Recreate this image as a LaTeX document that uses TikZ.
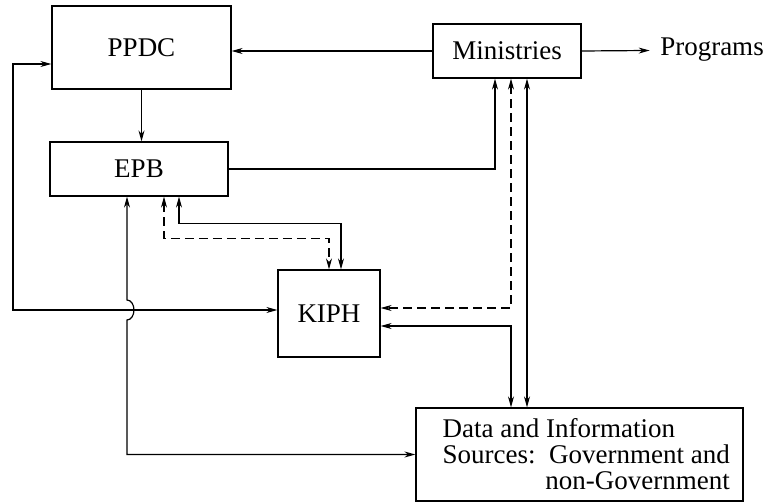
\documentclass[tikz,border=0pt]{standalone}
\usepackage{fontspec}
\setmainfont{Liberation Serif}
\usetikzlibrary{arrows.meta}

\begin{document}
\begin{tikzpicture}[x = 1pt, y = -1pt, % pixel units, y runs down
                > = {Stealth[length=11pt, width=6pt]}, % arrow head style
                line width = 1.2pt, % line style
                font = \fontsize{27}{26}\selectfont
            ]
            \useasboundingbox (0,0) rectangle (768,503);

            \tikzstyle{blk}=[draw = black, rectangle, inner sep = 0pt]
            \tikzstyle{dsh}=[dash pattern = on 9pt off 5pt]

            \node[blk, minimum width = 179pt, minimum height = 83pt] (ppdc) at (141.5,47.5) {PPDC};
            \node[blk, minimum width = 178pt, minimum height = 54pt] (epb) at (139,169) {EPB};
            \node[blk, minimum width = 148pt, minimum height = 54pt] (min) at (507,51) {Ministries};
            \node[blk, minimum width = 102pt, minimum height = 87pt] (kiph) at (329,313.5) {KIPH};
            \node[blk, minimum width = 327pt, minimum height = 93pt] (data) at (579.5,454.5) {};
            \node[anchor = base west, inner sep = 0pt] (datatxt) at (442,437)
                {\begin{tabular}[t]{@{}l@{}}Data and Information\\
                Sources:\, Government and\\ \hfill non-Government\end{tabular}};
            \node[inner xsep = 10pt] (prog) at (712,50) {Programs};

            \coordinate (c1) at (13,64);
            \coordinate (e1) at ([xshift=-12pt]epb.south);
            \coordinate (jmp) at (e1 |- 0,310);

            % top row
            \draw[->] (min.west) -- (min.west -| ppdc.east);
            \draw[->] (min.east) -- (prog);
            \draw[->] (ppdc.south) -- (ppdc.south |- epb.north);
            \draw[->] (epb.east) -| ([xshift=-12pt]min.south);

            % Ministries <-> KIPH and data sources
            \draw[<->, dsh] ([xshift=4pt]min.south) |- ([yshift=5.5pt]kiph.east);
            \draw[<->] ([xshift=20pt]min.south) -- ([xshift=20pt]min.south |- data.north);
            \draw[<->] ([yshift=-12.5pt]kiph.east) -| ([xshift=4pt]min.south |- data.north);

            % EPB <-> KIPH
            \draw[<->, dsh] ([xshift=25pt]epb.south) -- ++(0,42) -| (kiph.north);
            \draw[<->] ([xshift=40pt]epb.south) -- ++(0,27) -| ([xshift=12pt]kiph.north);

            % PPDC <-> KIPH
            \draw[<->] ([yshift=3.5pt]kiph.west) -| (c1) -- (c1 -| ppdc.west);

            % EPB <-> data sources, jumping over the line above
            \draw[<->] (e1) -- ([yshift=10pt]jmp) arc[start angle=90, end angle=-90,
                x radius=7pt, y radius=10pt] -- (jmp |- data.west) -- (data.west);
        \end{tikzpicture}
\end{document}
